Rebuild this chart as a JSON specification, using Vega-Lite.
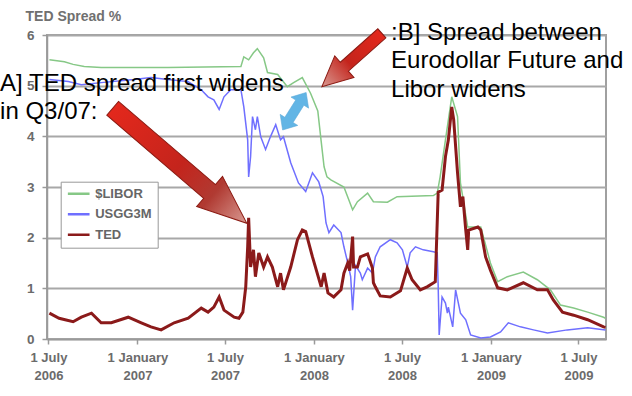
{
  "$schema": "https://vega.github.io/schema/vega-lite/v6.json",
  "width": 559,
  "height": 304,
  "autosize": "none",
  "padding": {"left": 47, "top": 35, "right": 26, "bottom": 57},
  "background": "white",
  "config": {
    "font": "Liberation Sans",
    "view": {"stroke": "#a0a0a0", "strokeWidth": 2},
    "axis": {"domainColor": "#9a9a9a", "domainWidth": 1.5, "tickColor": "#9a9a9a", "tickWidth": 1.5, "labelFont": "Liberation Sans"}
  },
  "datasets": {
    "rates": [
      {"series": "$LIBOR", "date": "2006-07-03", "value": 5.51},
      {"series": "$LIBOR", "date": "2006-08-03", "value": 5.47},
      {"series": "$LIBOR", "date": "2006-08-21", "value": 5.42},
      {"series": "$LIBOR", "date": "2006-09-13", "value": 5.38},
      {"series": "$LIBOR", "date": "2006-10-18", "value": 5.36},
      {"series": "$LIBOR", "date": "2007-03-05", "value": 5.36},
      {"series": "$LIBOR", "date": "2007-08-03", "value": 5.38},
      {"series": "$LIBOR", "date": "2007-08-09", "value": 5.57},
      {"series": "$LIBOR", "date": "2007-08-19", "value": 5.51},
      {"series": "$LIBOR", "date": "2007-08-29", "value": 5.65},
      {"series": "$LIBOR", "date": "2007-09-06", "value": 5.73},
      {"series": "$LIBOR", "date": "2007-09-19", "value": 5.55},
      {"series": "$LIBOR", "date": "2007-09-27", "value": 5.26},
      {"series": "$LIBOR", "date": "2007-10-18", "value": 5.22},
      {"series": "$LIBOR", "date": "2007-11-07", "value": 4.98},
      {"series": "$LIBOR", "date": "2007-11-20", "value": 5.06},
      {"series": "$LIBOR", "date": "2007-12-08", "value": 5.16},
      {"series": "$LIBOR", "date": "2007-12-25", "value": 4.85},
      {"series": "$LIBOR", "date": "2008-01-09", "value": 4.5},
      {"series": "$LIBOR", "date": "2008-01-16", "value": 3.9},
      {"series": "$LIBOR", "date": "2008-01-22", "value": 3.4},
      {"series": "$LIBOR", "date": "2008-01-28", "value": 3.2},
      {"series": "$LIBOR", "date": "2008-02-05", "value": 3.14},
      {"series": "$LIBOR", "date": "2008-03-03", "value": 3.0},
      {"series": "$LIBOR", "date": "2008-03-21", "value": 2.55},
      {"series": "$LIBOR", "date": "2008-03-31", "value": 2.71},
      {"series": "$LIBOR", "date": "2008-04-21", "value": 2.88},
      {"series": "$LIBOR", "date": "2008-05-03", "value": 2.71},
      {"series": "$LIBOR", "date": "2008-06-01", "value": 2.7},
      {"series": "$LIBOR", "date": "2008-06-21", "value": 2.81},
      {"series": "$LIBOR", "date": "2008-09-04", "value": 2.83},
      {"series": "$LIBOR", "date": "2008-09-12", "value": 2.88},
      {"series": "$LIBOR", "date": "2008-09-18", "value": 3.2},
      {"series": "$LIBOR", "date": "2008-09-29", "value": 3.93},
      {"series": "$LIBOR", "date": "2008-10-12", "value": 4.78},
      {"series": "$LIBOR", "date": "2008-10-24", "value": 4.39},
      {"series": "$LIBOR", "date": "2008-10-30", "value": 3.08},
      {"series": "$LIBOR", "date": "2008-11-14", "value": 2.21},
      {"series": "$LIBOR", "date": "2008-12-11", "value": 2.21},
      {"series": "$LIBOR", "date": "2008-12-31", "value": 1.5},
      {"series": "$LIBOR", "date": "2009-01-15", "value": 1.13},
      {"series": "$LIBOR", "date": "2009-02-04", "value": 1.23},
      {"series": "$LIBOR", "date": "2009-03-09", "value": 1.32},
      {"series": "$LIBOR", "date": "2009-04-07", "value": 1.17},
      {"series": "$LIBOR", "date": "2009-05-04", "value": 0.97},
      {"series": "$LIBOR", "date": "2009-05-25", "value": 0.67},
      {"series": "$LIBOR", "date": "2009-06-21", "value": 0.61},
      {"series": "$LIBOR", "date": "2009-07-20", "value": 0.53},
      {"series": "$LIBOR", "date": "2009-08-22", "value": 0.43},
      {"series": "$LIBOR", "date": "2009-08-26", "value": 0.41},

      {"series": "USGG3M", "date": "2006-07-03", "value": 5.12},
      {"series": "USGG3M", "date": "2006-08-11", "value": 5.08},
      {"series": "USGG3M", "date": "2006-09-07", "value": 5.02},
      {"series": "USGG3M", "date": "2006-10-18", "value": 5.06},
      {"series": "USGG3M", "date": "2006-12-25", "value": 5.12},
      {"series": "USGG3M", "date": "2007-01-29", "value": 5.16},
      {"series": "USGG3M", "date": "2007-03-05", "value": 5.12},
      {"series": "USGG3M", "date": "2007-04-16", "value": 5.08},
      {"series": "USGG3M", "date": "2007-05-13", "value": 4.92},
      {"series": "USGG3M", "date": "2007-05-27", "value": 4.78},
      {"series": "USGG3M", "date": "2007-06-08", "value": 4.72},
      {"series": "USGG3M", "date": "2007-06-19", "value": 4.53},
      {"series": "USGG3M", "date": "2007-06-29", "value": 4.78},
      {"series": "USGG3M", "date": "2007-07-13", "value": 4.92},
      {"series": "USGG3M", "date": "2007-08-03", "value": 4.92},
      {"series": "USGG3M", "date": "2007-08-09", "value": 4.58},
      {"series": "USGG3M", "date": "2007-08-17", "value": 3.93},
      {"series": "USGG3M", "date": "2007-08-19", "value": 3.2},
      {"series": "USGG3M", "date": "2007-08-23", "value": 3.6},
      {"series": "USGG3M", "date": "2007-08-27", "value": 4.39},
      {"series": "USGG3M", "date": "2007-09-02", "value": 4.13},
      {"series": "USGG3M", "date": "2007-09-06", "value": 4.39},
      {"series": "USGG3M", "date": "2007-09-13", "value": 3.99},
      {"series": "USGG3M", "date": "2007-09-23", "value": 3.74},
      {"series": "USGG3M", "date": "2007-10-03", "value": 3.99},
      {"series": "USGG3M", "date": "2007-10-14", "value": 4.23},
      {"series": "USGG3M", "date": "2007-10-24", "value": 3.93},
      {"series": "USGG3M", "date": "2007-10-30", "value": 3.99},
      {"series": "USGG3M", "date": "2007-11-14", "value": 3.48},
      {"series": "USGG3M", "date": "2007-11-30", "value": 3.08},
      {"series": "USGG3M", "date": "2007-12-15", "value": 2.91},
      {"series": "USGG3M", "date": "2007-12-29", "value": 3.28},
      {"series": "USGG3M", "date": "2008-01-11", "value": 3.1},
      {"series": "USGG3M", "date": "2008-01-20", "value": 2.81},
      {"series": "USGG3M", "date": "2008-01-26", "value": 2.29},
      {"series": "USGG3M", "date": "2008-02-01", "value": 2.1},
      {"series": "USGG3M", "date": "2008-02-11", "value": 2.25},
      {"series": "USGG3M", "date": "2008-02-26", "value": 2.1},
      {"series": "USGG3M", "date": "2008-03-03", "value": 1.82},
      {"series": "USGG3M", "date": "2008-03-11", "value": 1.5},
      {"series": "USGG3M", "date": "2008-03-17", "value": 1.23},
      {"series": "USGG3M", "date": "2008-03-21", "value": 0.57},
      {"series": "USGG3M", "date": "2008-03-27", "value": 1.45},
      {"series": "USGG3M", "date": "2008-04-06", "value": 1.3},
      {"series": "USGG3M", "date": "2008-04-10", "value": 1.17},
      {"series": "USGG3M", "date": "2008-04-21", "value": 1.4},
      {"series": "USGG3M", "date": "2008-05-01", "value": 1.3},
      {"series": "USGG3M", "date": "2008-05-07", "value": 1.62},
      {"series": "USGG3M", "date": "2008-05-17", "value": 1.82},
      {"series": "USGG3M", "date": "2008-06-07", "value": 1.96},
      {"series": "USGG3M", "date": "2008-06-21", "value": 1.9},
      {"series": "USGG3M", "date": "2008-07-02", "value": 1.76},
      {"series": "USGG3M", "date": "2008-07-12", "value": 1.42},
      {"series": "USGG3M", "date": "2008-07-18", "value": 1.7},
      {"series": "USGG3M", "date": "2008-07-29", "value": 1.82},
      {"series": "USGG3M", "date": "2008-08-14", "value": 1.76},
      {"series": "USGG3M", "date": "2008-09-04", "value": 1.72},
      {"series": "USGG3M", "date": "2008-09-12", "value": 1.7},
      {"series": "USGG3M", "date": "2008-09-14", "value": 1.03},
      {"series": "USGG3M", "date": "2008-09-16", "value": 0.08},
      {"series": "USGG3M", "date": "2008-09-22", "value": 0.83},
      {"series": "USGG3M", "date": "2008-09-29", "value": 0.71},
      {"series": "USGG3M", "date": "2008-10-03", "value": 0.51},
      {"series": "USGG3M", "date": "2008-10-05", "value": 0.63},
      {"series": "USGG3M", "date": "2008-10-14", "value": 0.24},
      {"series": "USGG3M", "date": "2008-10-20", "value": 0.97},
      {"series": "USGG3M", "date": "2008-10-30", "value": 0.51},
      {"series": "USGG3M", "date": "2008-11-10", "value": 0.38},
      {"series": "USGG3M", "date": "2008-11-20", "value": 0.08},
      {"series": "USGG3M", "date": "2008-12-11", "value": 0.02},
      {"series": "USGG3M", "date": "2008-12-31", "value": 0.04},
      {"series": "USGG3M", "date": "2009-01-21", "value": 0.14},
      {"series": "USGG3M", "date": "2009-02-06", "value": 0.32},
      {"series": "USGG3M", "date": "2009-03-03", "value": 0.24},
      {"series": "USGG3M", "date": "2009-03-30", "value": 0.18},
      {"series": "USGG3M", "date": "2009-04-28", "value": 0.12},
      {"series": "USGG3M", "date": "2009-06-08", "value": 0.18},
      {"series": "USGG3M", "date": "2009-07-20", "value": 0.22},
      {"series": "USGG3M", "date": "2009-08-26", "value": 0.18},

      {"series": "TED", "date": "2006-07-03", "value": 0.51},
      {"series": "TED", "date": "2006-07-23", "value": 0.41},
      {"series": "TED", "date": "2006-08-21", "value": 0.34},
      {"series": "TED", "date": "2006-09-07", "value": 0.43},
      {"series": "TED", "date": "2006-09-28", "value": 0.51},
      {"series": "TED", "date": "2006-10-18", "value": 0.32},
      {"series": "TED", "date": "2006-11-08", "value": 0.32},
      {"series": "TED", "date": "2006-12-13", "value": 0.43},
      {"series": "TED", "date": "2007-01-09", "value": 0.32},
      {"series": "TED", "date": "2007-01-29", "value": 0.24},
      {"series": "TED", "date": "2007-02-19", "value": 0.18},
      {"series": "TED", "date": "2007-03-18", "value": 0.32},
      {"series": "TED", "date": "2007-04-16", "value": 0.41},
      {"series": "TED", "date": "2007-05-13", "value": 0.61},
      {"series": "TED", "date": "2007-05-27", "value": 0.53},
      {"series": "TED", "date": "2007-06-08", "value": 0.63},
      {"series": "TED", "date": "2007-06-19", "value": 0.83},
      {"series": "TED", "date": "2007-06-29", "value": 0.57},
      {"series": "TED", "date": "2007-07-20", "value": 0.43},
      {"series": "TED", "date": "2007-07-30", "value": 0.41},
      {"series": "TED", "date": "2007-08-07", "value": 0.53},
      {"series": "TED", "date": "2007-08-13", "value": 1.03},
      {"series": "TED", "date": "2007-08-17", "value": 1.82},
      {"series": "TED", "date": "2007-08-19", "value": 2.39},
      {"series": "TED", "date": "2007-08-23", "value": 1.42},
      {"series": "TED", "date": "2007-08-29", "value": 1.76},
      {"series": "TED", "date": "2007-09-02", "value": 1.23},
      {"series": "TED", "date": "2007-09-09", "value": 1.7},
      {"series": "TED", "date": "2007-09-19", "value": 1.42},
      {"series": "TED", "date": "2007-09-27", "value": 1.62},
      {"series": "TED", "date": "2007-10-07", "value": 1.42},
      {"series": "TED", "date": "2007-10-18", "value": 1.03},
      {"series": "TED", "date": "2007-10-24", "value": 1.3},
      {"series": "TED", "date": "2007-10-30", "value": 0.97},
      {"series": "TED", "date": "2007-11-14", "value": 1.42},
      {"series": "TED", "date": "2007-11-28", "value": 1.96},
      {"series": "TED", "date": "2007-12-08", "value": 2.15},
      {"series": "TED", "date": "2007-12-15", "value": 2.12},
      {"series": "TED", "date": "2007-12-29", "value": 1.62},
      {"series": "TED", "date": "2008-01-16", "value": 1.03},
      {"series": "TED", "date": "2008-01-22", "value": 1.3},
      {"series": "TED", "date": "2008-01-30", "value": 0.91},
      {"series": "TED", "date": "2008-02-11", "value": 0.83},
      {"series": "TED", "date": "2008-02-26", "value": 0.97},
      {"series": "TED", "date": "2008-03-03", "value": 1.3},
      {"series": "TED", "date": "2008-03-11", "value": 1.5},
      {"series": "TED", "date": "2008-03-15", "value": 1.35},
      {"series": "TED", "date": "2008-03-21", "value": 2.02},
      {"series": "TED", "date": "2008-03-23", "value": 1.42},
      {"series": "TED", "date": "2008-03-31", "value": 1.42},
      {"series": "TED", "date": "2008-04-06", "value": 1.62},
      {"series": "TED", "date": "2008-04-21", "value": 1.68},
      {"series": "TED", "date": "2008-05-01", "value": 1.4},
      {"series": "TED", "date": "2008-05-03", "value": 1.11},
      {"series": "TED", "date": "2008-05-07", "value": 1.03},
      {"series": "TED", "date": "2008-05-17", "value": 0.85},
      {"series": "TED", "date": "2008-06-07", "value": 0.83},
      {"series": "TED", "date": "2008-06-28", "value": 0.95},
      {"series": "TED", "date": "2008-07-12", "value": 1.4},
      {"series": "TED", "date": "2008-07-22", "value": 1.17},
      {"series": "TED", "date": "2008-08-08", "value": 0.97},
      {"series": "TED", "date": "2008-08-22", "value": 1.03},
      {"series": "TED", "date": "2008-09-08", "value": 1.13},
      {"series": "TED", "date": "2008-09-14", "value": 2.9},
      {"series": "TED", "date": "2008-09-22", "value": 2.94},
      {"series": "TED", "date": "2008-09-29", "value": 3.6},
      {"series": "TED", "date": "2008-10-05", "value": 3.93},
      {"series": "TED", "date": "2008-10-12", "value": 4.58},
      {"series": "TED", "date": "2008-10-16", "value": 4.33},
      {"series": "TED", "date": "2008-10-24", "value": 3.28},
      {"series": "TED", "date": "2008-10-30", "value": 2.61},
      {"series": "TED", "date": "2008-11-04", "value": 2.81},
      {"series": "TED", "date": "2008-11-10", "value": 2.15},
      {"series": "TED", "date": "2008-11-14", "value": 1.76},
      {"series": "TED", "date": "2008-11-16", "value": 2.15},
      {"series": "TED", "date": "2008-12-05", "value": 2.21},
      {"series": "TED", "date": "2008-12-11", "value": 2.15},
      {"series": "TED", "date": "2008-12-21", "value": 1.62},
      {"series": "TED", "date": "2008-12-31", "value": 1.36},
      {"series": "TED", "date": "2009-01-15", "value": 1.01},
      {"series": "TED", "date": "2009-02-04", "value": 0.97},
      {"series": "TED", "date": "2009-03-09", "value": 1.11},
      {"series": "TED", "date": "2009-04-07", "value": 0.97},
      {"series": "TED", "date": "2009-04-28", "value": 0.97},
      {"series": "TED", "date": "2009-05-10", "value": 0.77},
      {"series": "TED", "date": "2009-05-29", "value": 0.53},
      {"series": "TED", "date": "2009-06-21", "value": 0.47},
      {"series": "TED", "date": "2009-07-20", "value": 0.38},
      {"series": "TED", "date": "2009-08-22", "value": 0.24},
      {"series": "TED", "date": "2009-08-26", "value": 0.23}
    ],
    "arrowA": [{"date": "2007-03-29T12:00:00Z", "value": 3.418}],
    "arrowB": [{"date": "2008-03-19T10:00:00Z", "value": 5.506}],
    "arrowBlue": [{"date": "2007-11-21T14:00:00Z", "value": 4.495}],
    "notes": [
      {"date": "2006-03-23", "value": 4.904, "text": "A] TED spread first widens"},
      {"date": "2006-03-23", "value": 4.342, "text": "in Q3/07:"},
      {"date": "2008-06-08T14:00:00Z", "value": 5.901, "text": ":B] Spread between"},
      {"date": "2008-06-08T14:00:00Z", "value": 5.339, "text": "Eurodollar Future and"},
      {"date": "2008-06-08T14:00:00Z", "value": 4.776, "text": "Libor widens"}
    ]
  },
  "data": {"name": "rates"},
  "encoding": {
    "x": {
      "field": "date", "type": "temporal",
      "scale": {"type": "utc", "domain": [{"year": 2006, "month": 6, "date": 28, "utc": true}, {"year": 2009, "month": 8, "date": 27, "utc": true}]},
      "axis": {
        "title": null, "grid": false,
        "values": [
          {"year": 2006, "month": 7, "date": 1, "utc": true},
          {"year": 2007, "month": 1, "date": 1, "utc": true},
          {"year": 2007, "month": 7, "date": 1, "utc": true},
          {"year": 2008, "month": 1, "date": 1, "utc": true},
          {"year": 2008, "month": 7, "date": 1, "utc": true},
          {"year": 2009, "month": 1, "date": 1, "utc": true},
          {"year": 2009, "month": 7, "date": 1, "utc": true}
        ],
        "labelExpr": "[utcFormat(datum.value, '%-d %B'), utcFormat(datum.value, '%Y')]",
        "labelFontSize": 13, "labelFontWeight": "bold", "labelColor": "#6b6b6b",
        "labelLineHeight": 18, "tickSize": 5, "labelPadding": 7,
        "labelFlush": false, "labelOverlap": false
      }
    },
    "y": {
      "field": "value", "type": "quantitative",
      "scale": {"domain": [0, 6], "nice": false},
      "axis": {
        "values": [0, 1, 2, 3, 4, 5, 6],
        "grid": true, "gridColor": "#a8a8a8", "gridWidth": 2,
        "labelFontSize": 13.5, "labelFontWeight": "bold", "labelColor": "#6b6b6b",
        "tickSize": 5, "labelPadding": 8,
        "title": "TED Spread %", "titleAngle": 0, "titleAlign": "left", "titleBaseline": "alphabetic",
        "titleX": -22, "titleY": -14.3, "titleFontSize": 14, "titleFontWeight": "bold", "titleColor": "#707070",
        "titleFont": "Liberation Sans"
      }
    }
  },
  "layer": [
    {
      "transform": [{"filter": "datum.series === '$LIBOR'"}],
      "mark": {"type": "line", "strokeWidth": 1.5},
      "encoding": {
        "color": {
          "field": "series", "type": "nominal",
          "scale": {"domain": ["$LIBOR", "USGG3M", "TED"], "range": ["#86c886", "#6f6fff", "#8b1a1a"]},
          "legend": {
            "orient": "none", "legendX": 13.7, "legendY": 146.7, "title": null,
            "symbolType": "stroke", "symbolSize": 470, "symbolStrokeWidth": 2.5,
            "clipHeight": 13,
            "labelFontSize": 13, "labelFontWeight": "bold", "labelColor": "#666666", "labelFont": "Liberation Sans",
            "strokeColor": "#999999", "fillColor": "white", "padding": 5.5,
            "rowPadding": 6.5, "labelOffset": 4
          }
        }
      }
    },
    {
      "transform": [{"filter": "datum.series === 'USGG3M'"}],
      "mark": {"type": "line", "strokeWidth": 1.5},
      "encoding": {"color": {"field": "series", "type": "nominal"}}
    },
    {
      "transform": [{"filter": "datum.series === 'TED'"}],
      "mark": {"type": "line", "strokeWidth": 3},
      "encoding": {"color": {"field": "series", "type": "nominal"}}
    },
    {
      "data": {"name": "arrowA"},
      "mark": {
        "type": "point", "filled": true, "opacity": 1,
        "shape": "M-1,-0.102L0.445,-0.102L0.445,-0.225L1,0L0.445,0.225L0.445,0.102L-1,0.102Z",
        "size": 31222, "angle": 40.6,
        "fill": {"gradient": "linear", "x1": 0, "y1": 0.5, "x2": 1, "y2": 0.5,
          "stops": [{"offset": 0, "color": "#e3281c"}, {"offset": 0.5, "color": "#c4241c"}, {"offset": 0.75, "color": "#b03a32"}, {"offset": 1, "color": "#d99a92"}]},
        "stroke": "#8b1a12", "strokeWidth": 1
      }
    },
    {
      "data": {"name": "arrowB"},
      "mark": {
        "type": "point", "filled": true, "opacity": 1,
        "shape": "M-1,-0.15L0.25,-0.15L0.25,-0.36L1,0L0.25,0.36L0.25,0.15L-1,0.15Z",
        "size": 6448, "angle": 138.3,
        "fill": {"gradient": "linear", "x1": 0, "y1": 0.5, "x2": 1, "y2": 0.5,
          "stops": [{"offset": 0, "color": "#e3281c"}, {"offset": 0.55, "color": "#c4241c"}, {"offset": 1, "color": "#d99a92"}]},
        "stroke": "#8b1a12", "strokeWidth": 1
      }
    },
    {
      "data": {"name": "arrowBlue"},
      "mark": {
        "type": "point", "filled": true, "opacity": 1,
        "shape": "M-1,0L-0.46,-0.47L-0.46,-0.22L0.46,-0.22L0.46,-0.47L1,0L0.46,0.47L0.46,0.22L-0.46,0.22L-0.46,0.47Z",
        "size": 1962, "angle": -57.9,
        "fill": "#62b5e5", "stroke": "#5aa8d8", "strokeWidth": 0.5
      }
    },
    {
      "data": {"name": "notes"},
      "mark": {"type": "text", "align": "left", "baseline": "alphabetic", "font": "Liberation Sans", "fontSize": 24, "color": "#000000"},
      "encoding": {"text": {"field": "text"}}
    }
  ]
}
